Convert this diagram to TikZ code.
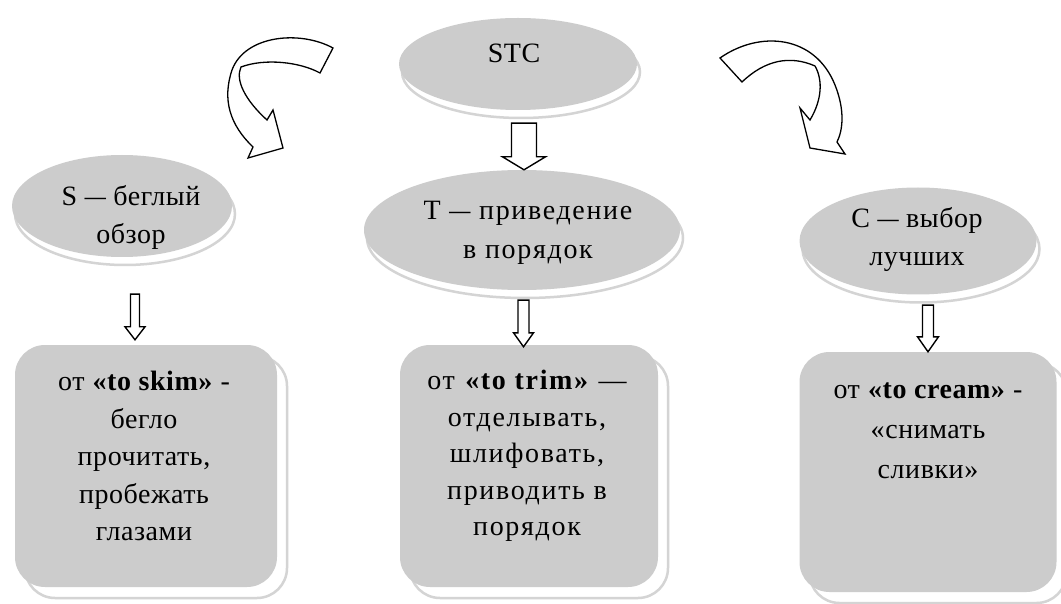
\documentclass[tikz,border=0pt]{standalone}
\usepackage{fontspec}
\setmainfont{Liberation Serif}
\newfontfamily\lsfont[LetterSpace=2]{Liberation Serif}
\newfontfamily\lswfont[LetterSpace=6]{Liberation Serif}
\usetikzlibrary{shapes.geometric,calc,shadows}
\definecolor{fillg}{RGB}{204,204,204}
\definecolor{shadg}{RGB}{212,212,212}
\newcommand\blkarrow[5]{\draw[blockarr] let \p1=(#1), \p2=(#2) in
  (\x1-#3,\y1) -- (\x1+#3,\y1) -- (\x1+#3,\y2+#5) -- (\x1+#4,\y2+#5) -- (\x1,\y2)
  -- (\x1-#4,\y2+#5) -- (\x1-#3,\y2+#5) -- cycle;}
\newcommand\wdash{\scalebox{1.5}[1]{–}}
\begin{document}
\begin{tikzpicture}[x=1pt,y=-1pt,
  ell/.style={ellipse, fill=fillg, draw=none, inner sep=0pt,
    drop shadow={shadow xshift=3pt, shadow yshift=-8pt, fill=white, draw=shadg, line width=2.5pt, opacity=1}},
  boxn/.style={rectangle, rounded corners=30pt, fill=fillg, draw=none, inner sep=0pt,
    drop shadow={shadow xshift=10pt, shadow yshift=-11pt, fill=white, draw=shadg, line width=2.5pt, opacity=1}},
  txt/.style={align=center, inner sep=0pt, font=\lsfont\fontsize{28}{38}\selectfont},
  btxt/.style={align=center, inner sep=0pt, font=\lsfont\fontsize{28}{37.5}\selectfont},
  blockarr/.style={draw=black, fill=white, line width=1.4pt, line join=miter},
  curv/.style={draw=black, fill=white, line width=1.3pt, line join=miter}]
\useasboundingbox (0,0) rectangle (1061,604);
\fill[white] (0,0) rectangle (1061,604);

% ellipses
\node[ell, minimum width=238pt, minimum height=92pt] (stc) at (518,64) {};
\node[ell, minimum width=220pt, minimum height=102pt] (s) at (122,206) {};
\node[ell, minimum width=316pt, minimum height=120pt] (t) at (522,230) {};
\node[ell, minimum width=237pt, minimum height=107pt] (c) at (918,241) {};

% boxes
\node[boxn, minimum width=262pt, minimum height=242pt] (sb) at (146,466) {};
\node[boxn, minimum width=258pt, minimum height=242pt] (tb) at (529,466) {};
\node[boxn, minimum width=257pt, minimum height=240pt] (cb) at (928,472) {};

% ellipse texts
\node[txt] (stct) at (514,53) {STC};
\node[txt] (st) at (131,217) {S \wdash{} беглый\\обзор};
\node[txt, font=\lswfont\fontsize{28}{39}\selectfont] (tt) at (528,233) {T \wdash{} приведение\\в порядок};
\node[txt] (ct) at (917,240) {C \wdash{} выбор\\лучших};

% box texts
\node[btxt] (sbt) at (144,456) {от \textbf{«to skim»} -\\бегло\\прочитать,\\пробежать\\глазами};
\node[btxt, font=\lswfont\fontsize{28}{36.5}\selectfont] (tbt) at (527,456) {от \textbf{«to trim»} —\\отделывать,\\шлифовать,\\приводить в\\порядок};
\node[align=center, inner sep=0pt, font=\lsfont\fontsize{28}{40}\selectfont] (cbt) at (928,431) {от \textbf{«to cream»} -\\«снимать\\сливки»};

% straight block arrows
\coordinate (a0s) at ($(stc.south)+(6,13)$);
\coordinate (a0e) at ($(t.north)+(2,0)$);
\coordinate (a1s) at ($(s.south)+(13,37)$);
\coordinate (a1e) at ($(sb.north)+(-11,-5)$);
\coordinate (a2s) at ($(t.south)+(1.5,10)$);
\coordinate (a2e) at ($(tb.north)+(-5.5,2)$);
\coordinate (a3s) at ($(c.south)+(10,10.5)$);
\coordinate (a3e) at ($(cb.north)+(0,0)$);
\blkarrow{a0s}{a0e}{12.5pt}{21.5pt}{13pt}
\blkarrow{a1s}{a1e}{4.5pt}{10pt}{13pt}
\blkarrow{a2s}{a2e}{5.5pt}{10pt}{14pt}
\blkarrow{a3s}{a3e}{5.5pt}{10.5pt}{15pt}

% curved arrows
\draw[curv] (333,48) .. controls (300,30) and (245,35) .. (232,70)
  .. controls (222,100) and (230,125) .. (253,147) -- (248,158) -- (283,148)
  -- (273,110) -- (267,120) .. controls (245,100) and (235,80) .. (241,67)
  .. controls (265,58) and (300,62) .. (320,73) -- cycle;
\draw[curv] (720,58) .. controls (760,30) and (815,35) .. (835,85)
  .. controls (845,110) and (843,130) .. (837,142) -- (845,154) -- (810,148)
  -- (800,108) -- (810,120) .. controls (822,100) and (823,80) .. (815,66)
  .. controls (790,55) and (765,60) .. (742,82) -- cycle;
\end{tikzpicture}
\end{document}
